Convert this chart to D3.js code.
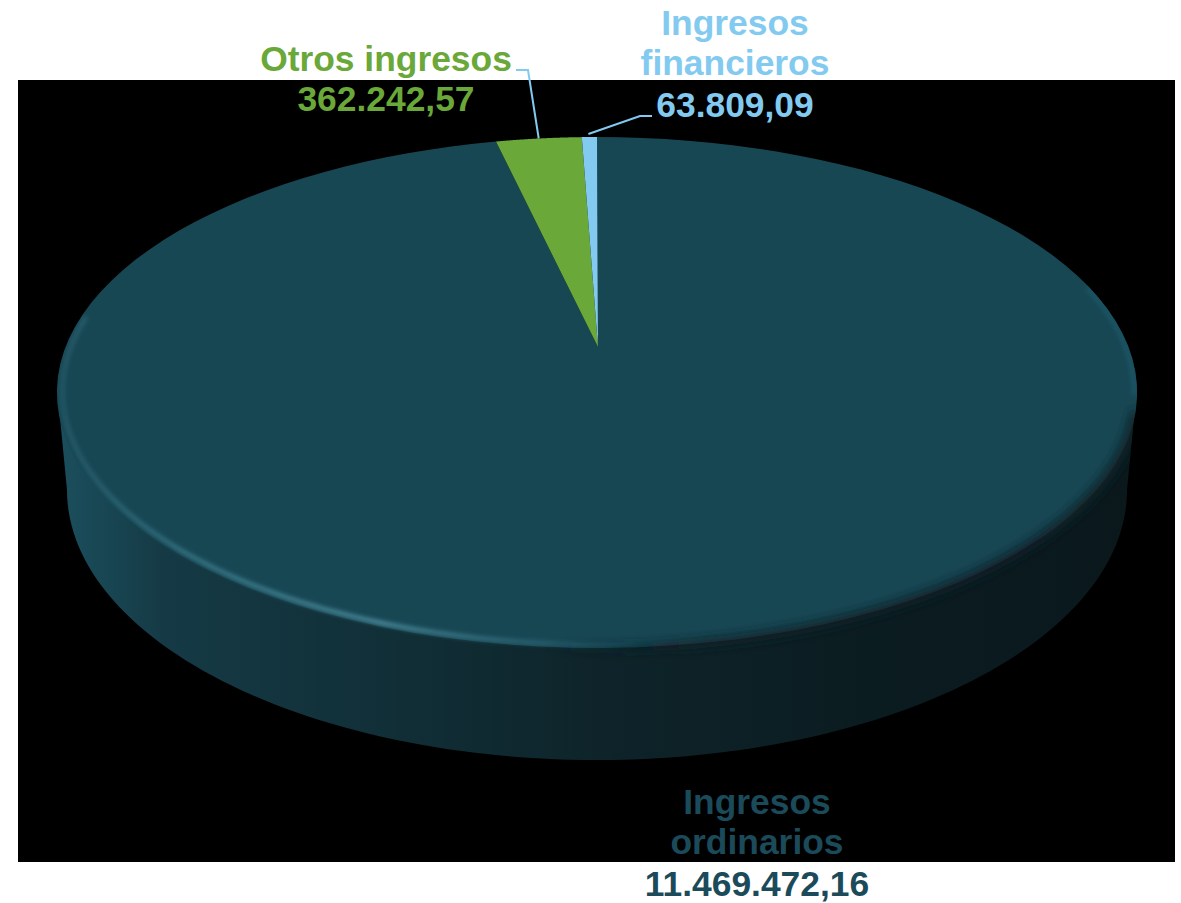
<!DOCTYPE html>
<html>
<head>
<meta charset="utf-8">
<script src="https://cdn.jsdelivr.net/npm/d3@7"></script>
<style>
  html, body { margin: 0; padding: 0; background: #fff; }
  svg { display: block; }
  text { font-family: "Liberation Sans", Arial, sans-serif; font-weight: bold; font-size: 35.4px; text-anchor: middle; }
</style>
</head>
<body>
<svg id="mysvg" width="1181" height="903"></svg>
<script>
const categories = ["Ingresos ordinarios", "Otros ingresos", "Ingresos financieros"];
const values = [11469472.16, 362242.57, 63809.09];
const valueLabels = ["11.469.472,16", "362.242,57", "63.809,09"];
const colors = ["#184754", "#6aa839", "#82caf0"];
const textColors = ["#1b4b5a", "#6aa839", "#82caf0"];

const svg = d3.select("#mysvg");
const defs = svg.append("defs");

// panel
svg.append("rect").attr("x", 18).attr("y", 80).attr("width", 1157).attr("height", 782).attr("fill", "#000");

// pie tilted in perspective: the centre sits higher than the middle of the ellipse
const cx = 597, apexY = 347, R = 531.5, k = -0.178, a = 185.6;
const project = (angle, r = 1) => {
  const u = r * Math.sin(angle), v = -r * Math.cos(angle);
  const w = 1 + k * v;
  return [cx + R * u / w, (a * v + apexY) / w];
};
const rim = (start, end, r = 1) => d3.range(0, 121).map((i) => project(start + (end - start) * i / 120, r));

// wall of the disc
const wallCy = 490, wallRx = 530, wallRy = 270;
const wallPoint = (t) => [cx + wallRx * Math.cos(t), wallCy + wallRy * Math.sin(t)];
const wallGrad = defs.append("linearGradient").attr("id", "wall").attr("gradientUnits", "userSpaceOnUse")
  .attr("x1", 56).attr("x2", 1137).attr("y1", 0).attr("y2", 0);
[[0, "#1b4f5d"], [0.05, "#184552"], [0.1, "#153a45"], [0.25, "#12323b"], [0.5, "#0e242a"], [0.75, "#0b1c20"], [1, "#0a181c"]]
  .forEach(([o, c]) => wallGrad.append("stop").attr("offset", o).attr("stop-color", c));

const topOutline = rim(0, 2 * Math.PI);
const leftMost = d3.least(topOutline, (p) => p[0]);
const rightMost = d3.greatest(topOutline, (p) => p[0]);
const wallOutline = [rightMost].concat(d3.range(0, 121).map((i) => wallPoint(Math.PI * i / 120)), [leftMost]);
svg.append("path").attr("d", d3.line()(wallOutline) + "Z").attr("fill", "url(#wall)");

// slices
const pie = d3.pie().sort(null).startAngle(0).endAngle(2 * Math.PI);
const slices = pie(values);
svg.selectAll(".slice").data(slices).join("path").attr("class", "slice")
  .attr("d", (d) => d3.line()([[cx + 1, apexY]].concat(rim(d.startAngle, d.endAngle))) + "Z")
  .attr("fill", (d, i) => colors[i]);

// bevel on the edge of the top, kept inside the disc
const clip = defs.append("clipPath").attr("id", "discClip");
clip.append("path").attr("d", d3.line()(topOutline) + "Z");
clip.append("path").attr("d", d3.line()(wallOutline) + "Z");
const addBlur = (id, dev) => defs.append("filter").attr("id", id).attr("filterUnits", "userSpaceOnUse")
  .attr("x", 0).attr("y", 0).attr("width", 1181).attr("height", 903)
  .append("feGaussianBlur").attr("stdDeviation", dev);
addBlur("blurSoft", 5);
addBlur("blurThin", 2);
const bevelGrad = defs.append("linearGradient").attr("id", "bevel").attr("gradientUnits", "userSpaceOnUse")
  .attr("x1", 56).attr("x2", 1137).attr("y1", 0).attr("y2", 0);
[[0, "#2a6070", 0.7], [0.12, "#3a7c8c", 0.9], [0.3, "#4f8fa0", 1], [0.45, "#2f6a7a", 0.7], [0.56, "#1f5362", 0]]
  .forEach(([o, c, op]) => bevelGrad.append("stop").attr("offset", o).attr("stop-color", c).attr("stop-opacity", op));
const shadeGrad = defs.append("linearGradient").attr("id", "shade").attr("gradientUnits", "userSpaceOnUse")
  .attr("x1", 56).attr("x2", 1137).attr("y1", 0).attr("y2", 0);
[[0.45, "#0c2026", 0], [0.6, "#0c2026", 0.8], [1, "#0c2026", 1]]
  .forEach(([o, c, op]) => shadeGrad.append("stop").attr("offset", o).attr("stop-color", c).attr("stop-opacity", op));
const bevel = svg.append("g").attr("clip-path", "url(#discClip)");
bevel.append("path")
  .attr("d", d3.line()(rim(Math.PI * 0.58, Math.PI * 1.1)))
  .attr("fill", "none").attr("stroke", "url(#shade)").attr("stroke-width", 10).attr("filter", "url(#blurSoft)");
bevel.append("path")
  .attr("d", d3.line()(rim(Math.PI * 0.42, Math.PI * 0.56, 0.995)))
  .attr("fill", "none").attr("stroke", "#1f5565").attr("stroke-width", 5).attr("filter", "url(#blurThin)");
bevel.append("path")
  .attr("d", d3.line()(rim(Math.PI * 0.9, Math.PI * 1.54, 0.99)))
  .attr("fill", "none").attr("stroke", "url(#bevel)").attr("stroke-width", 4).attr("filter", "url(#blurThin)");

// labels
const labelLines = [
  { lines: ["Ingresos", "ordinarios", valueLabels[0]], x: 757, y: [814, 854, 896] },
  { lines: [categories[1], valueLabels[1]], x: 386, y: [71, 111] },
  { lines: ["Ingresos", "financieros", valueLabels[2]], x: 735, y: [35, 75, 117] },
];
labelLines.forEach((l, i) => {
  l.lines.forEach((t, j) => {
    svg.append("text").attr("x", l.x).attr("y", l.y[j]).attr("fill", textColors[i]).text(t);
  });
});

// leader lines from the rim to the labels
const midAngle = (d) => (d.startAngle + d.endAngle) / 2;
const leader = d3.line();
const otrosRim = project(midAngle(slices[1]));
const finRim = project(midAngle(slices[2]));
svg.append("path").attr("d", leader([[516, 70], [528, 70], otrosRim]))
  .attr("fill", "none").attr("stroke", "#82caf0").attr("stroke-width", 2);
svg.append("path").attr("d", leader([[652, 116], [640, 116], [finRim[0] - 1, finRim[1] - 3]]))
  .attr("fill", "none").attr("stroke", "#82caf0").attr("stroke-width", 2);
</script>
</body>
</html>
